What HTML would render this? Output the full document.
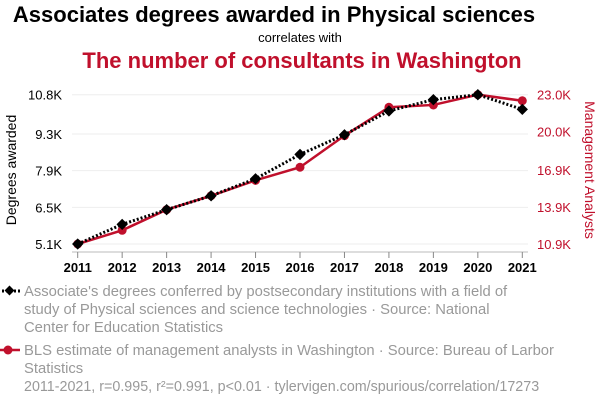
<!DOCTYPE html>
<html><head><meta charset="utf-8"><style>
body{margin:0;background:#fff;font-family:"Liberation Sans",sans-serif;}
svg text{font-family:"Liberation Sans",sans-serif;}
</style></head><body>
<svg width="600" height="408" viewBox="0 0 600 408">
<text x="274" y="22" text-anchor="middle" font-size="22" font-weight="bold" fill="#000">Associates degrees awarded in Physical sciences</text>
<text x="300" y="42" text-anchor="middle" font-size="13" fill="#000">correlates with</text>
<text x="302" y="68" text-anchor="middle" font-size="22" font-weight="bold" fill="#c0102c">The number of consultants in Washington</text>
<g id="grid"></g>
<line x1="72" y1="252" x2="528" y2="252" stroke="#bbb"/>
<g id="xt"></g><g id="yl"></g><g id="yr"></g>
<text transform="translate(16,170) rotate(-90)" text-anchor="middle" font-size="14" fill="#000">Degrees awarded</text>
<text transform="translate(585,170) rotate(90)" text-anchor="middle" font-size="14" fill="#c0102c">Management Analysts</text>
<g id="series"></g>
<g>
<line x1="2" y1="291" x2="20" y2="291" stroke="#000" stroke-width="3" stroke-dasharray="2,2"/>
<rect x="6" y="287" width="7" height="7" transform="rotate(45 9.5 290.5)" fill="#000"/>
<text font-size="14.8" fill="#999"><tspan x="24" y="296">Associate's degrees conferred by postsecondary institutions with a field of</tspan><tspan x="24" y="314">study of Physical sciences and science technologies · Source: National</tspan><tspan x="24" y="332">Center for Education Statistics</tspan></text>
</g>
<g>
<line x1="0" y1="350" x2="20" y2="350" stroke="#c0102c" stroke-width="2.5"/>
<circle cx="8" cy="350" r="4.5" fill="#c0102c"/>
<text font-size="14.8" fill="#999"><tspan x="24" y="355">BLS estimate of management analysts in Washington · Source: Bureau of Larbor</tspan><tspan x="24" y="373">Statistics</tspan></text>
</g>
<text x="24" y="391" font-size="14.3" fill="#999">2011-2021, r=0.995, r²=0.991, p&lt;0.01 · tylervigen.com/spurious/correlation/17273</text>
</svg>
<script>
const years=[2011,2012,2013,2014,2015,2016,2017,2018,2019,2020,2021];
const degrees=[5.1,5.85,6.41,6.94,7.59,8.52,9.27,10.18,10.61,10.8,10.24];
const analysts=[10.9,12.01,13.68,14.81,16.06,17.12,19.68,21.98,22.17,23.0,22.51];
const leftTicks=[5.1,6.5,7.9,9.3,10.8];
const leftLabels=["5.1K","6.5K","7.9K","9.3K","10.8K"];
const rightTicks=[10.9,13.9,16.9,20.0,23.0];
const rightLabels=["10.9K","13.9K","16.9K","20.0K","23.0K"];
const NS="http://www.w3.org/2000/svg";
const X=y=>77.7+(y-2011)*44.46;
const YL=v=>244-(v-5.1)/5.7*149.3;
const YR=v=>244-(v-10.9)/12.1*149.3;
function mk(t,a,p){const e=document.createElementNS(NS,t);for(const k in a)e.setAttribute(k,a[k]);document.getElementById(p).appendChild(e);return e;}
leftTicks.forEach((v,i)=>{
 const g=mk('line',{x1:72,x2:528,y1:YL(v),y2:YL(v),stroke:'#eee'},'grid');
 
 
 const t=mk('text',{x:62,y:YL(v)+5,'text-anchor':'end','font-size':13,fill:'#000'},'yl');t.textContent=leftLabels[i];
 
 
});
rightTicks.forEach((v,i)=>{
 const t=mk('text',{x:537,y:YR(v)+5,'font-size':13,fill:'#c0102c'},'yr');t.textContent=rightLabels[i];
 
 
});
years.forEach(y=>{
 const l=mk('line',{x1:X(y),x2:X(y),y1:252,y2:258,stroke:'#888'},'xt');
 
 
 const t=mk('text',{x:X(y),y:272,'text-anchor':'middle','font-size':13,'font-weight':'bold',fill:'#000'},'xt');t.textContent=y;
 
 
});
const rp=mk('polyline',{points:years.map((y,i)=>X(y)+','+YR(analysts[i])).join(' '),fill:'none',stroke:'#c0102c','stroke-width':2.5},'series');


years.forEach((y,i)=>{const c=mk('circle',{cx:X(y),cy:YR(analysts[i]),r:4.5,fill:'#c0102c'},'series');
 
 });
const bp=mk('polyline',{points:years.map((y,i)=>X(y)+','+YL(degrees[i])).join(' '),fill:'none',stroke:'#000','stroke-width':3,'stroke-dasharray':'2,2'},'series');


years.forEach((y,i)=>{const cx=X(y),cy=YL(degrees[i]);
 const r=mk('rect',{x:cx-4,y:cy-4,width:8,height:8,transform:`rotate(45 ${cx} ${cy})`,fill:'#000'},'series');
 
 });
</script>
</body></html>
